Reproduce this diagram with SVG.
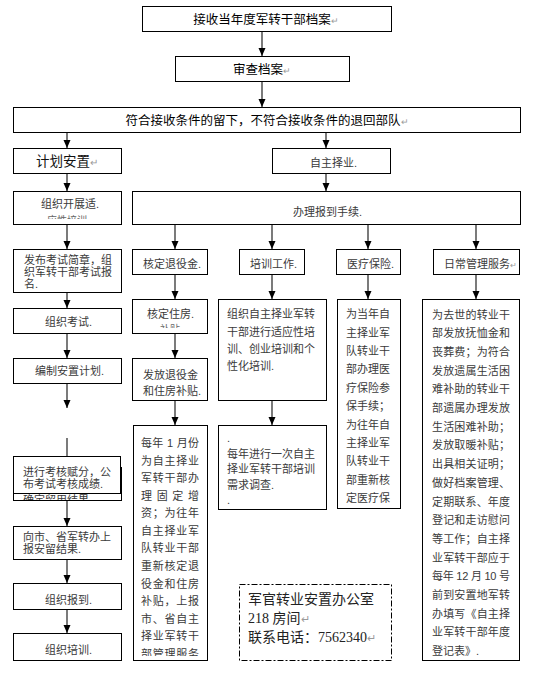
<svg xmlns="http://www.w3.org/2000/svg" width="543" height="673" viewBox="0 0 543 673">
<style>
.box{fill:#fff;stroke:#000;stroke-width:1}
.dash{fill:#fff;stroke:#000;stroke-width:1;stroke-dasharray:6 2 2 2}
.h{font-family:"Noto Sans CJK SC",sans-serif;font-size:12.5px;fill:#000}
.p{font-family:"Noto Sans CJK SC",sans-serif;font-size:13.5px;fill:#111}
.t{font-family:"Liberation Sans","Noto Sans CJK SC",sans-serif;font-size:11px;fill:#3a3a3a}
.s{font-family:"Noto Sans CJK SC",sans-serif;font-size:10px;fill:#666}
.c{font-family:"Liberation Serif","Noto Sans CJK SC",serif;font-size:14px;fill:#222}
.pm{fill:#9a9a9a;font-size:0.75em}
.conn line{stroke:#333;stroke-width:1.3}
.conn .a{marker-end:url(#ah)}
</style>
<defs>
<marker id="ah" viewBox="0 0 8 8" refX="8" refY="4" markerWidth="8" markerHeight="8" markerUnits="userSpaceOnUse" orient="auto"><path d="M0,0.5 L8,4 L0,7.5 z" fill="#000"/></marker>
<clipPath id="c1"><rect x="14" y="192" width="106" height="27"/></clipPath>
<clipPath id="c2"><rect x="133" y="300" width="73" height="28"/></clipPath>
<clipPath id="c3"><rect x="14" y="493" width="106" height="7"/></clipPath>
<clipPath id="c4"><rect x="134" y="426" width="72" height="230"/></clipPath>
</defs>
<rect width="543" height="673" fill="#fff"/>

<g class="conn">
<line class="a" x1="262" y1="32" x2="262" y2="56"/>
<line class="a" x1="262" y1="82" x2="262" y2="107"/>
<line class="a" x1="67" y1="132" x2="67" y2="148"/>
<line class="a" x1="326" y1="132" x2="326" y2="148"/>
<line class="a" x1="67" y1="173" x2="67" y2="191"/>
<line class="a" x1="326" y1="173" x2="326" y2="191"/>
<line class="a" x1="67" y1="224" x2="67" y2="249"/>
<line class="a" x1="175" y1="224" x2="175" y2="249"/>
<line class="a" x1="272" y1="224" x2="272" y2="249"/>
<line class="a" x1="368" y1="224" x2="368" y2="249"/>
<line class="a" x1="476" y1="224" x2="476" y2="249"/>
<line class="a" x1="67" y1="292" x2="67" y2="308"/>
<line class="a" x1="175" y1="274" x2="175" y2="299"/>
<line class="a" x1="272" y1="274" x2="272" y2="299"/>
<line class="a" x1="368" y1="274" x2="368" y2="299"/>
<line class="a" x1="476" y1="274" x2="476" y2="299"/>
<line class="a" x1="67" y1="333" x2="67" y2="358"/>
<line class="a" x1="175" y1="333" x2="175" y2="358"/>
<line class="a" x1="67" y1="383" x2="67" y2="408"/>
<line x1="67" y1="438" x2="67" y2="456"/>
<line class="a" x1="175" y1="400" x2="175" y2="425"/>
<line class="a" x1="272" y1="400" x2="272" y2="425"/>
<line class="a" x1="67" y1="500" x2="67" y2="526"/>
<line class="a" x1="67" y1="559" x2="67" y2="583"/>
<line class="a" x1="67" y1="609" x2="67" y2="633"/>
</g>

<g id="n-receive"><rect class="box" x="142.5" y="6.5" width="249" height="25"/><text class="h" x="266" y="23.5" text-anchor="middle">接收当年度军转干部档案<tspan class="pm">↵</tspan></text></g>
<g id="n-review"><rect class="box" x="175.5" y="56.5" width="174" height="25"/><text class="h" x="262" y="73.5" text-anchor="middle">审查档案<tspan class="pm">↵</tspan></text></g>
<g id="n-filter"><rect class="box" x="13.5" y="107.5" width="507" height="25"/><text class="h" x="267" y="124.5" text-anchor="middle">符合接收条件的留下，不符合接收条件的退回部队<tspan class="pm">↵</tspan></text></g>

<g id="n-plan"><rect class="box" x="13.5" y="148.5" width="108" height="25"/><text class="p" x="67" y="166" text-anchor="middle">计划安置<tspan class="pm">↵</tspan></text></g>
<g id="n-self"><rect class="box" x="272.5" y="148.5" width="118" height="25"/><text class="t" x="310" y="167">自主择业.</text></g>

<g id="n-adapt"><rect class="box" x="13.5" y="191.5" width="108" height="33"/><text class="t" x="41" y="208">组织开展适.</text><text class="s" x="47" y="224" clip-path="url(#c1)">应性培训</text></g>
<g id="n-register"><rect class="box" x="132.5" y="191.5" width="388" height="33"/><text class="t" x="293" y="216">办理报到手续.</text></g>

<g id="n-exam-notice"><rect class="box" x="13.5" y="249.5" width="108" height="43"/><text class="t" x="24" y="264">发布考试简章，组</text><text class="t" x="24" y="276">织军转干部考试报</text><text class="t" x="24" y="288">名.</text></g>
<g id="n-pension"><rect class="box" x="132.5" y="249.5" width="75" height="25"/><text class="t" x="143" y="268">核定退役金.</text></g>
<g id="n-training"><rect class="box" x="239.5" y="249.5" width="65" height="25"/><text class="t" x="250" y="268">培训工作.</text></g>
<g id="n-medical"><rect class="box" x="336.5" y="249.5" width="64" height="25"/><text class="t" x="347" y="268">医疗保险.</text></g>
<g id="n-daily"><rect class="box" x="433.5" y="249.5" width="86" height="25"/><text class="t" x="444" y="268">日常管理服务<tspan class="pm">↵</tspan></text></g>

<g id="n-exam"><rect class="box" x="13.5" y="308.5" width="108" height="25"/><text class="t" x="45" y="326">组织考试.</text></g>
<g id="n-housing"><rect class="box" x="132.5" y="299.5" width="75" height="34"/><text class="t" x="147" y="318">核定住房.</text><text class="s" x="160" y="333" clip-path="url(#c2)">补贴</text></g>
<g id="n-train-detail"><rect class="box" x="218.5" y="299.5" width="108" height="101"/>
<text class="t" x="227" y="318" textLength="88" lengthAdjust="spacing">组织自主择业军转</text>
<text class="t" x="227" y="335.5" textLength="88" lengthAdjust="spacing">干部进行适应性培</text>
<text class="t" x="227" y="353" textLength="88" lengthAdjust="spacing">训、创业培训和个</text>
<text class="t" x="227" y="370">性化培训.</text></g>
<g id="n-medical-detail"><rect class="box" x="337.5" y="299.5" width="63" height="209"/>
<text class="t" x="346" y="318.2" textLength="44" lengthAdjust="spacing">为当年自</text>
<text class="t" x="346" y="336.6" textLength="44" lengthAdjust="spacing">主择业军</text>
<text class="t" x="346" y="355" textLength="44" lengthAdjust="spacing">队转业干</text>
<text class="t" x="346" y="373.4" textLength="44" lengthAdjust="spacing">部办理医</text>
<text class="t" x="346" y="391.8" textLength="44" lengthAdjust="spacing">疗保险参</text>
<text class="t" x="346" y="410.2" textLength="44" lengthAdjust="spacing">保手续；</text>
<text class="t" x="346" y="428.6" textLength="44" lengthAdjust="spacing">为往年自</text>
<text class="t" x="346" y="447" textLength="44" lengthAdjust="spacing">主择业军</text>
<text class="t" x="346" y="465.4" textLength="44" lengthAdjust="spacing">队转业干</text>
<text class="t" x="346" y="483.8" textLength="44" lengthAdjust="spacing">部重新核</text>
<text class="t" x="346" y="502.2" textLength="44" lengthAdjust="spacing">定医疗保</text></g>
<g id="n-daily-detail"><rect class="box" x="422.5" y="299.5" width="97" height="361"/>
<text class="t" x="432" y="318.5" textLength="78" lengthAdjust="spacing">为去世的转业干</text>
<text class="t" x="432" y="337.2" textLength="78" lengthAdjust="spacing">部发放抚恤金和</text>
<text class="t" x="432" y="355.9" textLength="78" lengthAdjust="spacing">丧葬费；为符合</text>
<text class="t" x="432" y="374.6" textLength="78" lengthAdjust="spacing">发放遗属生活困</text>
<text class="t" x="432" y="393.3" textLength="78" lengthAdjust="spacing">难补助的转业干</text>
<text class="t" x="432" y="412" textLength="78" lengthAdjust="spacing">部遗属办理发放</text>
<text class="t" x="432" y="430.7" textLength="78" lengthAdjust="spacing">生活困难补助；</text>
<text class="t" x="432" y="449.4" textLength="78" lengthAdjust="spacing">发放取暖补贴；</text>
<text class="t" x="432" y="468.1" textLength="78" lengthAdjust="spacing">出具相关证明；</text>
<text class="t" x="432" y="486.8" textLength="78" lengthAdjust="spacing">做好档案管理、</text>
<text class="t" x="432" y="505.5" textLength="78" lengthAdjust="spacing">定期联系、年度</text>
<text class="t" x="432" y="524.2" textLength="78" lengthAdjust="spacing">登记和走访慰问</text>
<text class="t" x="432" y="542.9" textLength="78" lengthAdjust="spacing">等工作；自主择</text>
<text class="t" x="432" y="561.6" textLength="78" lengthAdjust="spacing">业军转干部应于</text>
<text class="t" x="432" y="580.3" textLength="78" lengthAdjust="spacing">每年 12 月 10 号</text>
<text class="t" x="432" y="599" textLength="78" lengthAdjust="spacing">前到安置地军转</text>
<text class="t" x="432" y="617.7" textLength="78" lengthAdjust="spacing">办填写《自主择</text>
<text class="t" x="432" y="636.4" textLength="78" lengthAdjust="spacing">业军转干部年度</text>
<text class="t" x="432" y="655.1">登记表》.</text></g>

<g id="n-plan-make"><rect class="box" x="13.5" y="358.5" width="108" height="25"/><text class="t" x="35" y="375">编制安置计划.</text></g>
<g id="n-pay"><rect class="box" x="132.5" y="358.5" width="75" height="42"/><text class="t" x="143" y="379">发放退役金</text><text class="t" x="143" y="395">和住房补贴.</text></g>

<g id="n-result"><rect class="box" x="13.5" y="467.5" width="108" height="33"/><text class="t" x="23" y="504" clip-path="url(#c3)">确定留用结果.</text></g>
<g id="n-score"><rect class="box" x="13.5" y="456.5" width="107" height="37"/><text class="t" x="23" y="476">进行考核赋分，公</text><text class="t" x="23" y="488">布考试考核成绩.</text></g>

<g id="n-annual"><rect class="box" x="133.5" y="425.5" width="74" height="235"/>
<g clip-path="url(#c4)">
<text class="t" x="141" y="447" textLength="58" lengthAdjust="spacing">每年 1 月份</text>
<text class="t" x="141" y="464.6" textLength="58" lengthAdjust="spacing">为自主择业</text>
<text class="t" x="141" y="482.1" textLength="58" lengthAdjust="spacing">军转干部办</text>
<text class="t" x="141" y="499.7" textLength="58" lengthAdjust="spacing">理 固 定 增</text>
<text class="t" x="141" y="517.2" textLength="58" lengthAdjust="spacing">资；为往年</text>
<text class="t" x="141" y="534.8" textLength="58" lengthAdjust="spacing">自主择业军</text>
<text class="t" x="141" y="552.4" textLength="58" lengthAdjust="spacing">队转业干部</text>
<text class="t" x="141" y="569.9" textLength="58" lengthAdjust="spacing">重新核定退</text>
<text class="t" x="141" y="587.5" textLength="58" lengthAdjust="spacing">役金和住房</text>
<text class="t" x="141" y="605" textLength="58" lengthAdjust="spacing">补贴，上报</text>
<text class="t" x="141" y="622.6" textLength="58" lengthAdjust="spacing">市、省自主</text>
<text class="t" x="141" y="640.2" textLength="58" lengthAdjust="spacing">择业军转干</text>
<text class="t" x="141" y="657.7" textLength="58" lengthAdjust="spacing">部管理服务</text>
</g></g>
<g id="n-survey"><rect class="box" x="218.5" y="425.5" width="108" height="84"/>
<text class="t" x="227" y="442">.</text>
<text class="t" x="227" y="457.5" textLength="88" lengthAdjust="spacing">每年进行一次自主</text>
<text class="t" x="227" y="473" textLength="88" lengthAdjust="spacing">择业军转干部培训</text>
<text class="t" x="227" y="488.5">需求调查.</text>
<text class="t" x="227" y="504">.</text></g>

<g id="n-report"><rect class="box" x="13.5" y="526.5" width="108" height="33"/><text class="t" x="23" y="541">向市、省军转办上</text><text class="t" x="23" y="553">报安留结果.</text></g>
<g id="n-checkin"><rect class="box" x="13.5" y="583.5" width="108" height="26"/><text class="t" x="45" y="604">组织报到.</text></g>
<g id="n-train2"><rect class="box" x="13.5" y="633.5" width="108" height="27"/><text class="t" x="45" y="654">组织培训.</text></g>

<g id="n-contact"><rect class="dash" x="239.5" y="584.5" width="152" height="76"/>
<text class="c" x="248" y="604">军官转业安置办公室</text>
<text class="c" x="248" y="623">218 房间<tspan class="pm">↵</tspan></text>
<text class="c" x="248" y="642">联系电话：7562340<tspan class="pm">↵</tspan></text></g>
</svg>
